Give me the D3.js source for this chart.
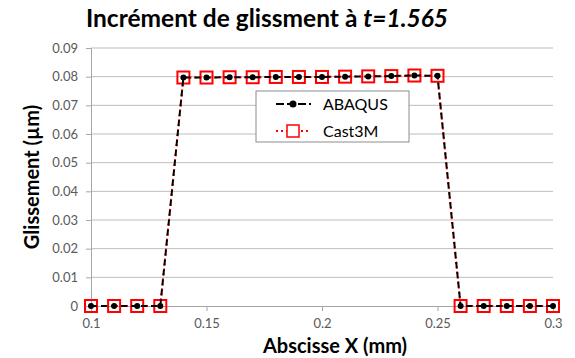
<!DOCTYPE html>
<html>
<head>
<meta charset="utf-8">
<script src="https://cdn.jsdelivr.net/npm/d3@7"></script>
<style>
  html, body { margin: 0; padding: 0; background: #fff; }
  svg { display: block; }
</style>
</head>
<body>
<svg id="chart" width="575" height="358"></svg>
<script>
// Abscissa of each sampled point (mm)
const abscissa = [0.10, 0.11, 0.12, 0.13, 0.14, 0.15, 0.16, 0.17, 0.18, 0.19, 0.20,
                  0.21, 0.22, 0.23, 0.24, 0.25, 0.26, 0.27, 0.28, 0.29, 0.30];
// Slip increment (µm) from each code
const abaqus = [0, 0, 0, 0, 0.0797, 0.0797, 0.0798, 0.0798, 0.0799, 0.0799, 0.0799,
                0.0800, 0.0801, 0.0802, 0.0804, 0.0803, 0, 0, 0, 0, 0];
const cast3m = [0, 0, 0, 0, 0.0797, 0.0797, 0.0798, 0.0798, 0.0799, 0.0799, 0.0799,
                0.0800, 0.0801, 0.0802, 0.0804, 0.0803, 0, 0, 0, 0, 0];
const xTicks = [0.1, 0.15, 0.2, 0.25, 0.3];
const yTicks = [0, 0.01, 0.02, 0.03, 0.04, 0.05, 0.06, 0.07, 0.08, 0.09];
const seriesNames = ["ABAQUS", "Cast3M"];

const svg = d3.select("#chart");
const font = "Lato, 'Open Sans', sans-serif";

const x = d3.scaleLinear().domain([0.1, 0.3]).range([91, 553]);
const y = d3.scaleLinear().domain([0, 0.09]).range([306, 48]);

// Horizontal gridlines
svg.append("g")
  .selectAll("line")
  .data(yTicks.filter(d => d > 0))
  .join("line")
  .attr("x1", x.range()[0]).attr("x2", x.range()[1])
  .attr("y1", d => y(d)).attr("y2", d => y(d))
  .attr("stroke", "#bcbcbc").attr("stroke-width", 1);

// Y axis
const yAxis = svg.append("g")
  .attr("transform", `translate(${x.range()[0]},0)`)
  .call(d3.axisLeft(y).tickValues(yTicks).tickSize(5).tickPadding(8)
        .tickFormat(d => d === 0 ? "0" : d3.format(".2f")(d)));
yAxis.select(".domain").attr("stroke", "#a6a6a6");
yAxis.selectAll(".tick line").attr("stroke", "#a6a6a6");
yAxis.selectAll(".tick text").attr("fill", "#595959")
  .style("font-family", font).style("font-size", "13px");

// X axis
const xAxis = svg.append("g")
  .attr("transform", `translate(0,${y(0)})`)
  .call(d3.axisBottom(x).tickValues(xTicks).tickSize(5).tickPadding(8)
        .tickFormat(d => String(+d.toFixed(2))));
xAxis.select(".domain").attr("stroke", "#a6a6a6");
xAxis.selectAll(".tick line").attr("stroke", "#a6a6a6");
xAxis.selectAll(".tick text").attr("fill", "#595959")
  .style("font-family", font).style("font-size", "13px");

const pts = (vals) => abscissa.map((a, i) => [a, vals[i]]);
const line = d3.line().x(d => x(d[0])).y(d => y(d[1]));

// Cast3M: red dotted line with hollow squares
svg.append("path")
  .datum(pts(cast3m))
  .attr("d", line)
  .attr("fill", "none")
  .attr("stroke", "#ff0000").attr("stroke-width", 2)
  .attr("stroke-dasharray", "2,3");

svg.append("g")
  .selectAll("rect")
  .data(pts(cast3m))
  .join("rect")
  .attr("x", d => x(d[0]) - 6).attr("y", d => y(d[1]) - 6)
  .attr("width", 12).attr("height", 12)
  .attr("fill", "none")
  .attr("stroke", "#ff0000").attr("stroke-width", 2);

// ABAQUS: black dashed line with dots
svg.append("path")
  .datum(pts(abaqus))
  .attr("d", line)
  .attr("fill", "none")
  .attr("stroke", "#000").attr("stroke-width", 2)
  .attr("stroke-dasharray", "6,4");

svg.append("g")
  .selectAll("circle")
  .data(pts(abaqus))
  .join("circle")
  .attr("cx", d => x(d[0])).attr("cy", d => y(d[1]))
  .attr("r", 3)
  .attr("fill", "#000");

// Legend
const lg = svg.append("g").attr("transform", "translate(256,91)");
lg.append("rect").attr("width", 153).attr("height", 51)
  .attr("fill", "#fff").attr("stroke", "#8c8c8c").attr("stroke-width", 1);

const lgA = lg.append("g").attr("transform", "translate(0,13)");
lgA.append("line").attr("x1", 20).attr("x2", 55).attr("y1", 0).attr("y2", 0)
  .attr("stroke", "#000").attr("stroke-width", 2).attr("stroke-dasharray", "8,3");
lgA.append("circle").attr("cx", 37).attr("cy", 0).attr("r", 3.5).attr("fill", "#000");
lgA.append("text").attr("x", 67).attr("y", 5.5).text(seriesNames[0])
  .style("font-family", font).style("font-size", "16px").attr("fill", "#000");

const lgC = lg.append("g").attr("transform", "translate(0,40)");
lgC.append("line").attr("x1", 20).attr("x2", 55).attr("y1", 0).attr("y2", 0)
  .attr("stroke", "#ff0000").attr("stroke-width", 2).attr("stroke-dasharray", "2,3");
lgC.append("rect").attr("x", 31).attr("y", -6).attr("width", 12).attr("height", 12)
  .attr("fill", "#fff").attr("stroke", "#ff0000").attr("stroke-width", 1.5);
lgC.append("text").attr("x", 67).attr("y", 5.5).text(seriesNames[1])
  .style("font-family", font).style("font-size", "16px").attr("fill", "#000");

// Title
const title = svg.append("text")
  .attr("x", 267).attr("y", 27)
  .attr("text-anchor", "middle")
  .style("font-family", font).style("font-size", "24.5px").style("font-weight", "bold")
  .attr("fill", "#000");
title.append("tspan").text("Incrément de glissment à ");
title.append("tspan").style("font-style", "italic").text("t=1.565");

// Axis titles
svg.append("text")
  .attr("x", 335).attr("y", 353)
  .attr("text-anchor", "middle")
  .style("font-family", font).style("font-size", "20px").style("font-weight", "bold")
  .text("Abscisse X (mm)");

svg.append("text")
  .attr("transform", "translate(39,177) rotate(-90)")
  .attr("text-anchor", "middle")
  .style("font-family", font).style("font-size", "20px").style("font-weight", "bold")
  .text("Glissement (µm)");
</script>
</body>
</html>
